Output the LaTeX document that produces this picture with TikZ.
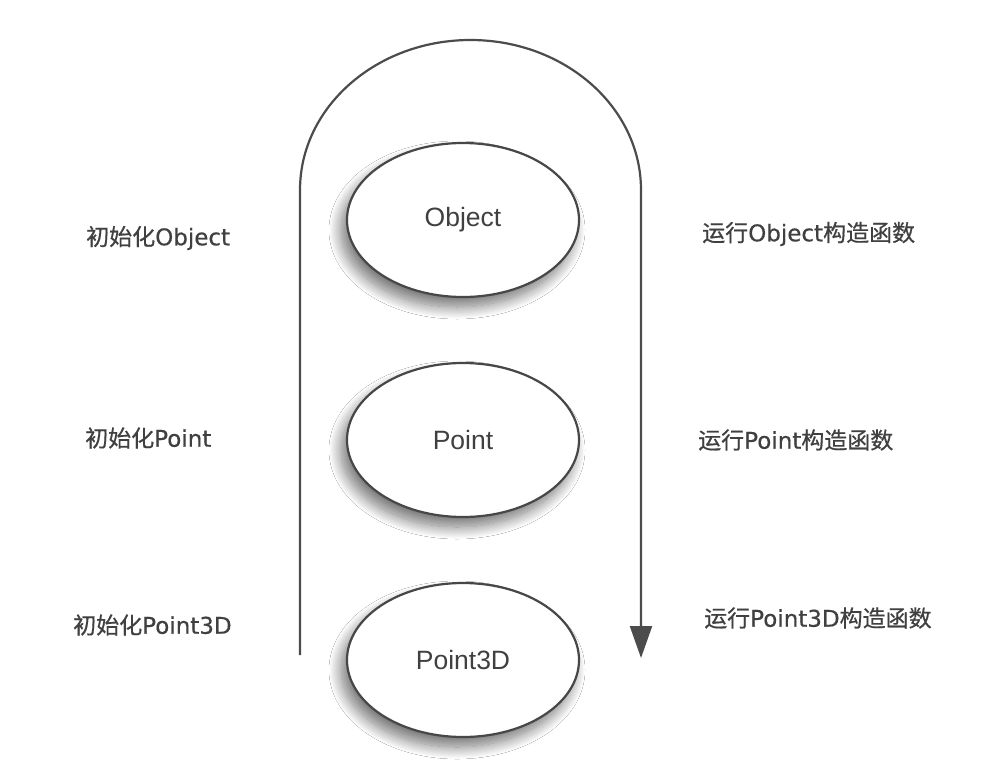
\documentclass[tikz,border=0pt]{standalone}
\usepackage{fontspec}
\setmainfont{Liberation Sans}
\newfontfamily\cjk[FakeBold=0.6]{Noto Sans CJK SC}
\newfontfamily\lat[FakeBold=0.4]{DejaVu Sans}
\usetikzlibrary{shapes.geometric,shadows.blur,arrows.meta}
\newcommand{\lb}[2]{{\cjk #1}{\lat #2}}
\newcommand{\lbb}[3]{{\cjk #1}{\lat #2}{\cjk #3}}
\begin{document}
\begin{tikzpicture}[x=1pt,y=-1pt,
  ell/.style={ellipse, draw=black!72, line width=2.2pt, fill=white,
    minimum width=232pt, minimum height=154pt, inner sep=0pt,
    font=\fontsize{26.5}{30}\selectfont, text=black!75,
    blur shadow={shadow xshift=-6pt, shadow yshift=-10pt, shadow blur radius=12pt, shadow blur steps=20, shadow opacity=55}},
  lab/.style={anchor=west, font=\fontsize{23}{26}\selectfont, text=black!75, inner sep=0pt},
  flow/.style={draw=black!70, line width=2.2pt}]
\useasboundingbox (0,0) rectangle (988,782);
\fill[white] (0,0) rectangle (988,782);
% ellipses
\node[ell] (obj) at (463,220) {Object};
\node[ell] (pt) at (463,440) {Point};
\node[ell] (p3) at (463,660) {Point3D};
% flow curve
\coordinate (s) at (300,655);
\coordinate (a) at (300,190);
\coordinate (e) at (641,658);
\draw[flow, -{Triangle[width=22pt,length=32pt]}] (s) -- (a)
  arc[start angle=180, end angle=360, x radius=170.5, y radius=150] -- (e);
% labels
\node[lab] (l1) at (86,238) {\lb{初始化}{Object}};
\node[lab] (l2) at (85,438) {\lb{初始化}{Point}};
\node[lab] (l3) at (73,625) {\lb{初始化}{Point3D}};
\node[lab] (r1) at (702,234) {\lbb{运行}{Object}{构造函数}};
\node[lab] (r2) at (698,440) {\lbb{运行}{Point}{构造函数}};
\node[lab] (r3) at (704,618) {\lbb{运行}{Point3D}{构造函数}};
\end{tikzpicture}
\end{document}
